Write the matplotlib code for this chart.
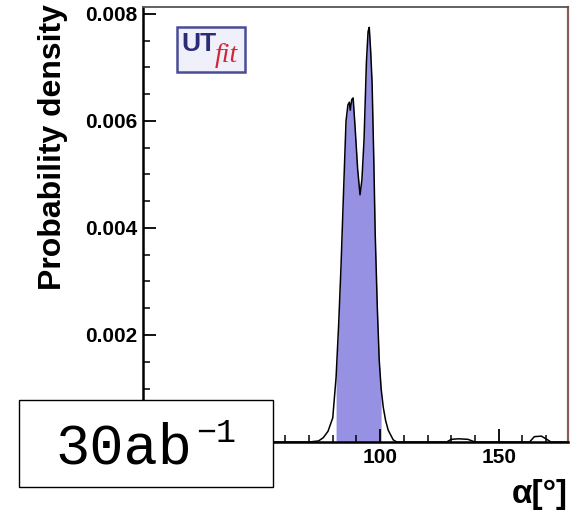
import numpy as np
import matplotlib
matplotlib.use('Agg')
import matplotlib.pyplot as plt
from matplotlib.patches import Rectangle
from matplotlib.ticker import MultipleLocator

# posterior of alpha (degrees)
ALPHA = [0, 70, 74, 76, 78, 80, 81.4, 82.5, 83.5, 84.5, 85.6, 86.4, 87.0, 87.4,
         88.0, 88.6, 89.4, 90.5, 91.5, 92.3, 93.2, 94.2, 94.9, 95.4, 96.0, 96.6,
         97.3, 97.9, 98.8, 99.6, 100.4, 101.3, 102.3, 103.4, 105.5, 107,
         128, 130, 133, 137, 140, 163, 165, 168, 171, 172, 180]
DENSITY = [0, 0, 0.00002, 0.00008, 0.0002, 0.00045, 0.0012, 0.0022, 0.0033,
           0.0046, 0.0060, 0.0063, 0.00635, 0.0062, 0.0064, 0.00643, 0.0059,
           0.0051, 0.00462, 0.0049, 0.00565, 0.0071, 0.00767, 0.00775, 0.0073,
           0.0067, 0.0053, 0.0039, 0.0025, 0.00153, 0.0010, 0.00065, 0.0004,
           0.00022, 0.00004, 0,
           0, 0.00005, 0.00006, 0.00005, 0,
           0, 0.0001, 0.00011, 0.00003, 0, 0]
FILL_RANGE = (81.4, 100.4)  # shaded interval
Y_TICKS = [0.002, 0.004, 0.006, 0.008]
X_TICKS = [0, 50, 100, 150]
X_LABELS = ['', '', '100', '150']  # 0 and 50 sit under the luminosity box
LUMI = '30ab'

x = np.array(ALPHA)
y = np.array(DENSITY)

fig = plt.figure(figsize=(5.79, 5.18), dpi=100)
ax = fig.add_axes([0.247, 0.1467, 0.734, 0.8398])

mask = (x >= FILL_RANGE[0]) & (x <= FILL_RANGE[1])
ax.fill_between(x, 0, y, where=mask, color='#9691e3', lw=0, zorder=1)
ax.plot(x, y, color='black', lw=1.1, zorder=2)

ax.set_xlim(2, 179.2)
ax.set_ylim(0, 0.00813)
ax.set_xticks(X_TICKS)
ax.set_xticklabels(X_LABELS)
ax.set_yticks(Y_TICKS)
ax.xaxis.set_minor_locator(MultipleLocator(10))
ax.yaxis.set_minor_locator(MultipleLocator(0.0005))
ax.set_yticklabels([f'{v:.3f}' for v in Y_TICKS])
for lab in ax.get_xticklabels() + ax.get_yticklabels():
    lab.set_fontweight('bold')
    lab.set_fontfamily('Liberation Sans')
ax.tick_params(which='major', direction='in', length=9.5, width=1.3, labelsize=15, pad=4)
ax.tick_params(which='minor', direction='in', length=5, width=1.1)
ax.tick_params(top=False, right=False, which='both')

for side in ['left', 'bottom']:
    ax.spines[side].set_linewidth(1.8)
ax.spines['top'].set_color('#555555')
ax.spines['top'].set_linewidth(1.3)
ax.spines['right'].set_color('#8a5c5c')
ax.spines['right'].set_linewidth(1.6)

fig.text(0.092, 0.717, 'Probability density', rotation=90, ha='center', va='center',
         fontsize=23, fontweight='bold', family='Liberation Sans')
fig.text(0.981, 0.015, 'α[°]', ha='right', va='bottom', fontsize=24,
         fontweight='bold', family='Liberation Sans')

# UTfit logo
W, H = 579, 518
fig.add_artist(Rectangle((177 / W, 1 - 72 / H), 68 / W, 45 / H, transform=fig.transFigure,
                         facecolor='#f0f0fa', edgecolor='#4c4c96', lw=1.8, zorder=5))
fig.text(181 / W, 1 - 51 / H, 'UT', ha='left', va='baseline', fontsize=19,
         fontweight='bold', color='#2b2b78', family='Liberation Sans', zorder=6)
fig.text(215 / W, 1 - 62 / H, 'fit', ha='left', va='baseline', fontsize=20,
         style='italic', color='#d42535', family='Liberation Serif', zorder=6)

# luminosity box
fig.add_artist(Rectangle((19 / W, 1 - 487 / H), 254 / W, 87 / H, transform=fig.transFigure,
                         facecolor='white', edgecolor='black', lw=1.0, zorder=5))
fig.text(55 / W, 1 - 463 / H, LUMI, ha='left', va='baseline', fontsize=41,
         family='Liberation Mono', zorder=6)
fig.text(196 / W, 1 - 442 / H, '\u22121', ha='left', va='baseline', fontsize=24,
         family='Liberation Mono', zorder=6)

fig.savefig('out.png', dpi=100)
